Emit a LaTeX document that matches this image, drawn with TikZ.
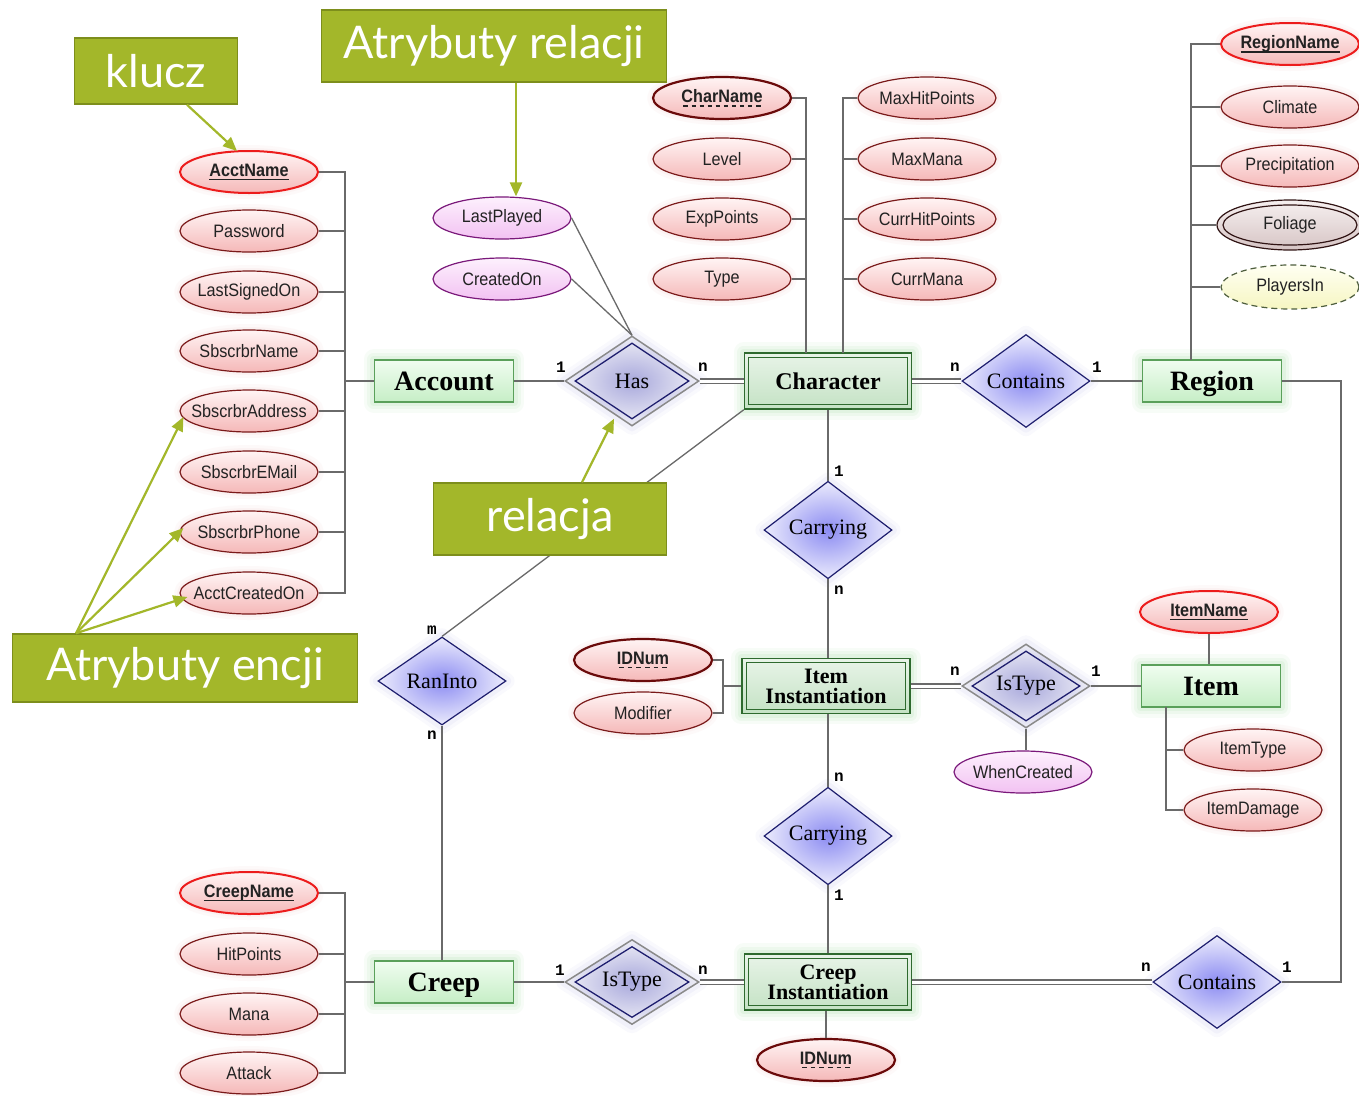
\documentclass[tikz,border=0pt]{standalone}
\usepackage{fontspec}
\usetikzlibrary{shapes.geometric,calc,arrows.meta,backgrounds}
\setmainfont{Liberation Serif}
\newfontfamily\attrfont[FakeStretch=0.9]{Liberation Sans}
\newfontfamily\cardfont{Liberation Mono}
\newfontfamily\notefont{Lato}

\definecolor{notegreen}{HTML}{A3B72A}
\definecolor{noteedge}{HTML}{7D8E1C}
\definecolor{wiregray}{HTML}{6A6A6A}
\definecolor{attredge}{HTML}{7A1A1A}
\definecolor{keyedge}{HTML}{EC1C1C}
\definecolor{weakkeyedge}{HTML}{6A0A0A}
\definecolor{attrtop}{HTML}{FFF4F4}
\definecolor{attrbot}{HTML}{F5B8B8}
\definecolor{reledge}{HTML}{7A187A}
\definecolor{reltop}{HTML}{FDF0FD}
\definecolor{relbot}{HTML}{F2C2F2}
\definecolor{entedge}{HTML}{5AA05A}
\definecolor{enttop}{HTML}{F0FDF0}
\definecolor{entbot}{HTML}{C6EEC6}
\definecolor{weakedge}{HTML}{2E6A2E}
\definecolor{weaktop}{HTML}{E8F4E8}
\definecolor{weakbot}{HTML}{C4E2C4}
\definecolor{dmdedge}{HTML}{1E1E6E}
\definecolor{dmdin}{HTML}{8C8CF2}
\definecolor{dmdout}{HTML}{EBEBFC}
\definecolor{iddmdin}{HTML}{A8A8DC}
\definecolor{iddmdout}{HTML}{EEEEF6}
\definecolor{iddmdedge}{HTML}{8A8A8A}
\definecolor{multiedge}{HTML}{301414}
\definecolor{multitop}{HTML}{F6F0F0}
\definecolor{multibot}{HTML}{D6C4C4}
\definecolor{derivedge}{HTML}{4E5E3E}
\definecolor{derivtop}{HTML}{FFFFF2}
\definecolor{derivbot}{HTML}{F6F6C2}
\definecolor{inktext}{HTML}{222222}
\definecolor{entglow}{HTML}{6CCB6C}
\definecolor{dmdglow}{HTML}{8A8AD8}
\definecolor{attrglow}{HTML}{E89A9A}

\pgfdeclarelayer{canvas}
\pgfsetlayers{canvas,background,main}

% centre a label without letting it widen the shape
\newcommand\ctr[1]{\makebox[0pt]{#1}}
% solid and dashed underlines for key attributes
\newsavebox\ulbox
\newcommand\solidunder[1]{\sbox\ulbox{#1}\rlap{\usebox\ulbox}%
  \raisebox{-4pt}{\rule{\wd\ulbox}{1.3pt}}}
\newcommand\dashunder[1]{\sbox\ulbox{#1}\rlap{\usebox\ulbox}%
  \raisebox{-4pt}{\hbox to \wd\ulbox{\xleaders\hbox{\hspace{1.6pt}\rule{4.5pt}{1.3pt}\hspace{1.6pt}}\hfill}}}

\tikzset{
  attr/.style={ellipse, inner sep=0pt, minimum width=138pt, minimum height=42pt,
    draw=attredge, line width=1.2pt, top color=attrtop, bottom color=attrbot,
    text=inktext, font=\attrfont\fontsize{18}{20}\selectfont},
  keyattr/.style={attr, draw=keyedge, line width=2pt, font=\attrfont\bfseries\fontsize{18}{20}\selectfont},
  weakkey/.style={attr, draw=weakkeyedge, line width=2.2pt, font=\attrfont\bfseries\fontsize{18}{20}\selectfont},
  relattr/.style={attr, draw=reledge, top color=reltop, bottom color=relbot},
  multiattr/.style={attr, draw=multiedge, top color=multitop, bottom color=multibot,
    minimum width=146pt, minimum height=50pt},
  derivattr/.style={attr, draw=derivedge, dash pattern=on 6pt off 4pt,
    top color=derivtop, bottom color=derivbot, minimum height=44pt},
  entbase/.style={rectangle, inner sep=0pt, minimum width=139pt, minimum height=42pt,
    draw=entedge, line width=1.2pt, top color=enttop, bottom color=entbot,
    font=\bfseries\fontsize{28}{30}\selectfont},
  entity/.style={entbase, text height=19pt, text depth=0pt},
  weakent/.style={entbase, draw=weakedge, line width=1.5pt, top color=weaktop,
    bottom color=weakbot, minimum width=167pt, minimum height=56pt,
    font=\bfseries\fontsize{22}{20}\selectfont, align=center},
  rel/.style={diamond, inner sep=0pt, minimum width=128pt, minimum height=88pt,
    draw=dmdedge, line width=1.2pt, inner color=dmdin, outer color=dmdout,
    font=\fontsize{22}{24}\selectfont},
  idrel/.style={rel, draw=iddmdedge, line width=1.5pt, inner color=iddmdin,
    outer color=iddmdout, minimum width=134pt},
  card/.style={font=\cardfont\bfseries\fontsize{16}{16}\selectfont, inner sep=0pt},
  link/.style={draw=wiregray, line width=1.3pt},
  twin/.style={draw=wiregray, line width=1.2pt, double=white, double distance=3pt},
  note/.style={rectangle, inner sep=0pt, fill=notegreen, draw=noteedge,
    line width=1.5pt, text=white, font=\notefont\fontsize{45}{47}\selectfont},
  notearrow/.style={draw=notegreen, line width=2.2pt,
    -{Triangle[length=14pt,width=12pt]}},
  glow/.style={line join=round, line cap=round},
}

\begin{document}
\begin{tikzpicture}[x=1pt, y=-1pt]
\begin{pgfonlayer}{canvas}
\fill[white] (0,0) rectangle (1359,1095);
\end{pgfonlayer}
\useasboundingbox (0,0) rectangle (1359,1095);

% ---------- entities ----------
\node[entity] (Account) at (444,381) {Account};
\node[entity] (Region) at (1212,381) {Region};
\node[entity] (Item) at (1211,686) {Item};
\node[entity] (Creep) at (444,982) {Creep};
\node[weakent, font=\bfseries\fontsize{24}{24}\selectfont] (Character) at (828,381) {Character};
\node[weakent, minimum width=168pt, minimum height=55pt] (ItemInst) at (826,686) {Item\\Instantiation};
\node[weakent] (CreepInst) at (828,982) {Creep\\Instantiation};
\foreach \n in {Character,ItemInst,CreepInst}
  \draw[weakedge, line width=1.2pt] ($(\n.north west)+(5,5)$) rectangle ($(\n.south east)+(-5,-5)$);

% ---------- relationships ----------
\node[idrel, minimum height=90pt] (Has) at (632,381) {Has};
\node[rel] (ContainsRegion) at (1026,381) {Contains};
\node[rel] (CarryingChar) at (828,530) {Carrying};
\node[idrel, minimum width=128pt, minimum height=84pt] (IsTypeItem) at (1026,686) {IsType};
\node[rel] (CarryingCreep) at (828,836) {Carrying};
\node[rel] (RanInto) at (442,681) {RanInto};
\node[idrel, minimum height=85pt] (IsTypeCreep) at (632,982) {IsType};
\node[rel] (ContainsCreep) at (1217,982) {Contains};
\foreach \n in {Has,IsTypeItem,IsTypeCreep}
  \draw[dmdedge, line width=1.3pt] ($(\n.north)+(0,8)$) -- ($(\n.east)+(-11,0)$)
    -- ($(\n.south)+(0,-8)$) -- ($(\n.west)+(11,0)$) -- cycle;

% ---------- Account attributes ----------
\node[keyattr] (aAcctName) at (249,172) {\ctr{\solidunder{AcctName}}};
\node[attr] (aPassword) at (249,231) {\ctr{Password}};
\node[attr] (aLastSigned) at (249,292) {\ctr{LastSignedOn}};
\node[attr] (aSubName) at (249,351) {\ctr{SbscrbrName}};
\node[attr] (aSubAddr) at (249,411) {\ctr{SbscrbrAddress}};
\node[attr] (aSubMail) at (249,472) {\ctr{SbscrbrEMail}};
\node[attr] (aSubPhone) at (249,532) {\ctr{SbscrbrPhone}};
\node[attr] (aAcctCreated) at (249,593) {\ctr{AcctCreatedOn}};
\coordinate (accBus) at (345,381);
\foreach \a in {aAcctName,aPassword,aLastSigned,aSubName,aSubAddr,aSubMail,aSubPhone,aAcctCreated}
  \draw[link] (\a.east) -| (accBus);
\draw[link] (accBus) -- (Account.west);

% ---------- Has attributes ----------
\node[relattr] (rLastPlayed) at (502,218) {\ctr{LastPlayed}};
\node[relattr] (rCreatedOn) at (502,279) {\ctr{CreatedOn}};
\draw[link] (rLastPlayed.east) -- (Has.north);
\draw[link] (rCreatedOn.east) -- (Has.north);

% ---------- Character attributes ----------
\node[weakkey] (cCharName) at (722,98) {\ctr{\dashunder{CharName}}};
\node[attr] (cLevel) at (722,159) {\ctr{Level}};
\node[attr] (cExp) at (722,219) {\ctr{ExpPoints}};
\node[attr] (cType) at (722,279) {\ctr{Type}};
\node[attr] (cMaxHP) at (927,98) {\ctr{MaxHitPoints}};
\node[attr] (cMaxMana) at (927,159) {\ctr{MaxMana}};
\node[attr] (cCurrHP) at (927,219) {\ctr{CurrHitPoints}};
\node[attr] (cCurrMana) at (927,279) {\ctr{CurrMana}};
\coordinate (charBusL) at (806,353);
\coordinate (charBusR) at (843,353);
\foreach \a in {cCharName,cLevel,cExp,cType}
  \draw[link] (\a.east) -| (charBusL);
\foreach \a in {cMaxHP,cMaxMana,cCurrHP,cCurrMana}
  \draw[link] (\a.west) -| (charBusR);

% ---------- Region attributes ----------
\node[keyattr] (gRegionName) at (1290,44) {\ctr{\solidunder{RegionName}}};
\node[attr] (gClimate) at (1290,107) {\ctr{Climate}};
\node[attr] (gPrecip) at (1290,166) {\ctr{Precipitation}};
\node[multiattr] (gFoliage) at (1290,225) {\ctr{Foliage}};
\draw[multiedge, line width=1.2pt] (gFoliage.center) ellipse [x radius=67pt, y radius=20pt];
\node[derivattr] (gPlayersIn) at (1290,287) {\ctr{PlayersIn}};
\coordinate (regBus) at (1191,360);
\foreach \a in {gRegionName,gClimate,gPrecip,gFoliage,gPlayersIn}
  \draw[link] (\a.west) -| (regBus);

% ---------- Item attributes ----------
\node[keyattr] (iItemName) at (1209,612) {\ctr{\solidunder{ItemName}}};
\node[attr] (iItemType) at (1253,750) {\ctr{ItemType}};
\node[attr] (iItemDamage) at (1253,810) {\ctr{ItemDamage}};
\draw[link] (iItemName.south) -- (iItemName.south |- Item.north);
\coordinate (itemBus) at (1166,707);
\foreach \a in {iItemType,iItemDamage}
  \draw[link] (\a.west) -| (itemBus);

% ---------- Item instantiation attributes ----------
\node[weakkey] (tIDNum) at (643,660) {\ctr{\dashunder{IDNum}}};
\node[attr] (tModifier) at (643,713) {\ctr{Modifier}};
\coordinate (instBus) at (723,686);
\foreach \a in {tIDNum,tModifier}
  \draw[link] (\a.east) -| (instBus);
\draw[link] (instBus) -- (ItemInst.west |- instBus);
\node[relattr] (wWhenCreated) at (1023,772) {\ctr{WhenCreated}};
\draw[link] (IsTypeItem.south) -- (wWhenCreated.north -| IsTypeItem.south);

% ---------- Creep attributes ----------
\node[keyattr] (kCreepName) at (249,893) {\ctr{\solidunder{CreepName}}};
\node[attr] (kHitPoints) at (249,954) {\ctr{HitPoints}};
\node[attr] (kMana) at (249,1014) {\ctr{Mana}};
\node[attr] (kAttack) at (249,1073) {\ctr{Attack}};
\coordinate (creepBus) at (345,982);
\foreach \a in {kCreepName,kHitPoints,kMana,kAttack}
  \draw[link] (\a.east) -| (creepBus);
\draw[link] (creepBus) -- (Creep.west);
\node[weakkey] (eIDNum) at (826,1060) {\ctr{\dashunder{IDNum}}};
\draw[link] (CreepInst.south -| eIDNum.north) -- (eIDNum.north);

% ---------- soft glows behind the shapes ----------
\begin{pgfonlayer}{background}
\foreach \n in {Account,Region,Item,Creep,Character,ItemInst,CreepInst}
  \foreach \w/\o in {20/0.05,13/0.07,7/0.09}
    \draw[glow, entglow, line width=\w pt, opacity=\o] (\n.north west) rectangle (\n.south east);
\foreach \n in {Has,ContainsRegion,CarryingChar,IsTypeItem,CarryingCreep,RanInto,IsTypeCreep,ContainsCreep}
  \foreach \w/\o in {16/0.05,9/0.07}
    \draw[glow, dmdglow, line width=\w pt, opacity=\o] (\n.north) -- (\n.east) -- (\n.south) -- (\n.west) -- cycle;
\foreach \n in {aAcctName,aPassword,aLastSigned,aSubName,aSubAddr,aSubMail,aSubPhone,aAcctCreated,
    cCharName,cLevel,cExp,cType,cMaxHP,cMaxMana,cCurrHP,cCurrMana,gRegionName,gClimate,gPrecip,
    iItemName,iItemType,iItemDamage,tIDNum,tModifier,kCreepName,kHitPoints,kMana,kAttack,eIDNum}
  \foreach \w/\o in {12/0.05,6/0.07}
    \draw[glow, attrglow, line width=\w pt, opacity=\o] (\n.center) ellipse [x radius=69pt, y radius=21pt];
\end{pgfonlayer}

% ---------- relationship connectors ----------
\draw[link] (Account.east) -- (Has.west);
\draw[twin] (Has.east) -- (Character.west);
\draw[twin] (Character.east) -- (ContainsRegion.west);
\draw[link] (ContainsRegion.east) -- (Region.west);
\draw[link] (Character.south) -- (CarryingChar.north);
\draw[link] (CarryingChar.south) -- (CarryingChar.south |- ItemInst.north);
\draw[twin] (ItemInst.east) -- (IsTypeItem.west);
\draw[link] (IsTypeItem.east) -- (Item.west);
\draw[link] (ItemInst.south -| CarryingCreep.north) -- (CarryingCreep.north);
\draw[link] (CarryingCreep.south) -- (CarryingCreep.south |- CreepInst.north);
\draw[link] (Character.south west) -- (RanInto.north);
\draw[link] (RanInto.south) -- (RanInto.south |- Creep.north);
\draw[link] (Creep.east) -- (IsTypeCreep.west);
\draw[twin] (IsTypeCreep.east) -- (CreepInst.west);
\draw[twin] (CreepInst.east) -- (ContainsCreep.west);
\draw[link] (Region.east) -| (1341,982) -- (ContainsCreep.east);

% ---------- cardinalities ----------
\node[card] (kHas1) at (561,367) {1};
\node[card] (kHasN) at (703,367) {n};
\node[card] (kConRn) at (955,367) {n};
\node[card] (kConR1) at (1097,367) {1};
\node[card] (kCarC1) at (839,471) {1};
\node[card] (kCarCn) at (839,590) {n};
\node[card] (kRanM) at (432,630) {m};
\node[card] (kRanN) at (432,735) {n};
\node[card] (kIsIn) at (955,671) {n};
\node[card] (kIsI1) at (1096,671) {1};
\node[card] (kCarKn) at (839,777) {n};
\node[card] (kCarK1) at (839,895) {1};
\node[card] (kIsK1) at (560,970) {1};
\node[card] (kIsKn) at (703,970) {n};
\node[card] (kConKn) at (1146,967) {n};
\node[card] (kConK1) at (1287,967) {1};

% ---------- notes ----------
\node[note, minimum width=163pt, minimum height=66pt] (nKey) at (156,71) {klucz};
\node[note, minimum width=345pt, minimum height=72pt] (nRelAttr) at (494,46) {Atrybuty relacji};
\node[note, minimum width=233pt, minimum height=72pt] (nRel) at (550,519) {relacja};
\node[note, minimum width=345pt, minimum height=68pt] (nEntAttr) at (185,668) {Atrybuty encji};

\draw[notearrow] ($(nKey.south)+(31,0)$) -- ($(aAcctName.north)+(-12,1)$);
\draw[notearrow] ($(nRelAttr.south)+(22,0)$) -- ($(rLastPlayed.north)+(14,0)$);
\draw[notearrow] ($(nRel.north)+(32,0)$) -- ($(Has.south)+(-18,-8)$);
\draw[notearrow] ($(nEntAttr.north)+(-109,0)$) -- ($(aSubAddr.west)+(4,6)$);
\draw[notearrow] ($(nEntAttr.north)+(-109,0)$) -- ($(aSubPhone.west)+(4,-4)$);
\draw[notearrow] ($(nEntAttr.north)+(-109,0)$) -- ($(aAcctCreated.west)+(8,4)$);
\end{tikzpicture}
\end{document}
